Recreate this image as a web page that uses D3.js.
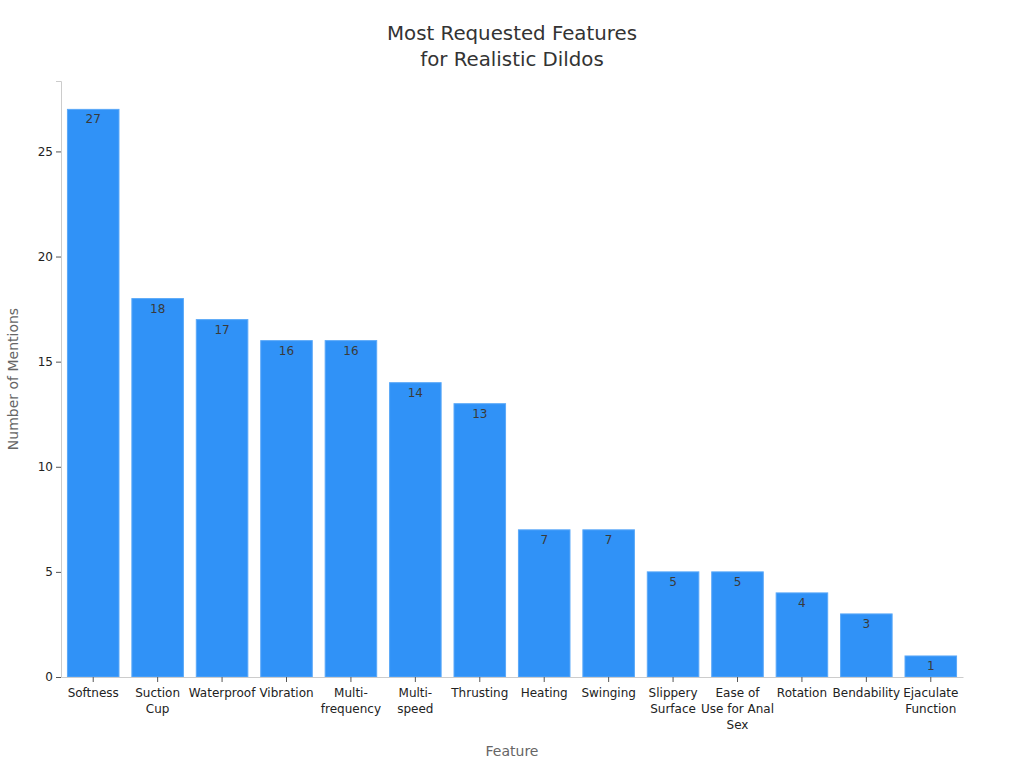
<!DOCTYPE html>
<html>
<head>
<meta charset="utf-8">
<script src="https://cdn.jsdelivr.net/npm/d3@7"></script>
<style>
  body { margin: 0; background: #fff; font-family: "DejaVu Sans", sans-serif; }
</style>
</head>
<body>
<div id="chart"></div>
<script>
// Chart data
const titleLines = ["Most Requested Features", "for Realistic Dildos"];
const features = ["Softness", "Suction Cup", "Waterproof", "Vibration", "Multi-frequency", "Multi-speed",
  "Thrusting", "Heating", "Swinging", "Slippery Surface", "Ease of Use for Anal Sex", "Rotation",
  "Bendability", "Ejaculate Function"];
// how each tick label breaks into lines
const featureLabels = [["Softness"], ["Suction", "Cup"], ["Waterproof"], ["Vibration"], ["Multi-", "frequency"],
  ["Multi-", "speed"], ["Thrusting"], ["Heating"], ["Swinging"], ["Slippery", "Surface"],
  ["Ease of", "Use for Anal", "Sex"], ["Rotation"], ["Bendability"], ["Ejaculate", "Function"]];
const mentions = [27, 18, 17, 16, 16, 14, 13, 7, 7, 5, 5, 4, 3, 1];
const yTicks = [0, 5, 10, 15, 20, 25];

const W = 1024, H = 768;
const margin = { top: 81, right: 61, bottom: 91, left: 61 };
const width = W - margin.left - margin.right;
const height = H - margin.top - margin.bottom;

const svg = d3.select("#chart").append("svg")
  .attr("width", W)
  .attr("height", H);

// Title
svg.append("text")
  .attr("x", 512)
  .attr("text-anchor", "middle")
  .attr("fill", "#333")
  .style("font-size", "19.8px")
  .selectAll("tspan")
  .data(titleLines)
  .enter().append("tspan")
  .attr("x", 512)
  .attr("y", (d, i) => 40 + i * 26)
  .text(d => d);

const g = svg.append("g").attr("transform", `translate(${margin.left},${margin.top})`);

const x = d3.scaleBand()
  .domain(features)
  .range([0, width])
  .paddingInner(0.2)
  .paddingOuter(0.1);

const y = d3.scaleLinear()
  .domain([0, d3.max(mentions) * 1.05])
  .range([height, 0]);

const data = features.map((f, i) => ({ feature: f, value: mentions[i], lines: featureLabels[i] }));

// Bars
g.selectAll(".bar")
  .data(data)
  .enter().append("rect")
  .attr("class", "bar")
  .attr("x", d => x(d.feature))
  .attr("y", d => y(d.value))
  .attr("width", x.bandwidth())
  .attr("height", d => height - y(d.value))
  .attr("fill", "#3092f7")
  .attr("stroke", "#5aa8f8")
  .attr("stroke-width", 1);

// Value labels
g.selectAll(".val")
  .data(data)
  .enter().append("text")
  .attr("class", "val")
  .attr("x", d => x(d.feature) + x.bandwidth() / 2)
  .attr("y", d => y(d.value) + 14)
  .attr("text-anchor", "middle")
  .attr("fill", "#3a3a3a")
  .style("font-size", "12px")
  .text(d => d.value);

// Y axis
const yAxis = g.append("g")
  .call(d3.axisLeft(y).tickValues(yTicks).tickSize(5).tickPadding(3));
yAxis.select(".domain").attr("stroke", "#ccc");
yAxis.selectAll(".tick line").attr("stroke", "#555");
yAxis.selectAll(".tick text")
  .attr("fill", "#222")
  .style("font-family", "DejaVu Sans")
  .style("font-size", "12px");

// X axis
const xAxis = g.append("g")
  .attr("transform", `translate(0,${height})`)
  .call(d3.axisBottom(x).tickSize(5).tickSizeOuter(0).tickFormat(""));
xAxis.select(".domain").attr("stroke", "#ccc");
xAxis.selectAll(".tick line").attr("stroke", "#555");
xAxis.selectAll(".tick").each(function (f, i) {
  const t = d3.select(this).append("text")
    .attr("fill", "#222")
    .attr("text-anchor", "middle")
    .style("font-family", "DejaVu Sans")
    .style("font-size", "12px");
  featureLabels[i].forEach((line, j) => {
    t.append("tspan")
      .attr("x", 0)
      .attr("y", 20 + j * 16)
      .text(line);
  });
});

// Axis titles
svg.append("text")
  .attr("x", margin.left + width / 2)
  .attr("y", 756)
  .attr("text-anchor", "middle")
  .attr("fill", "#666")
  .style("font-size", "14px")
  .text("Feature");

svg.append("text")
  .attr("transform", `translate(18,${margin.top + height / 2}) rotate(-90)`)
  .attr("text-anchor", "middle")
  .attr("fill", "#666")
  .style("font-size", "14px")
  .text("Number of Mentions");
</script>
</body>
</html>
